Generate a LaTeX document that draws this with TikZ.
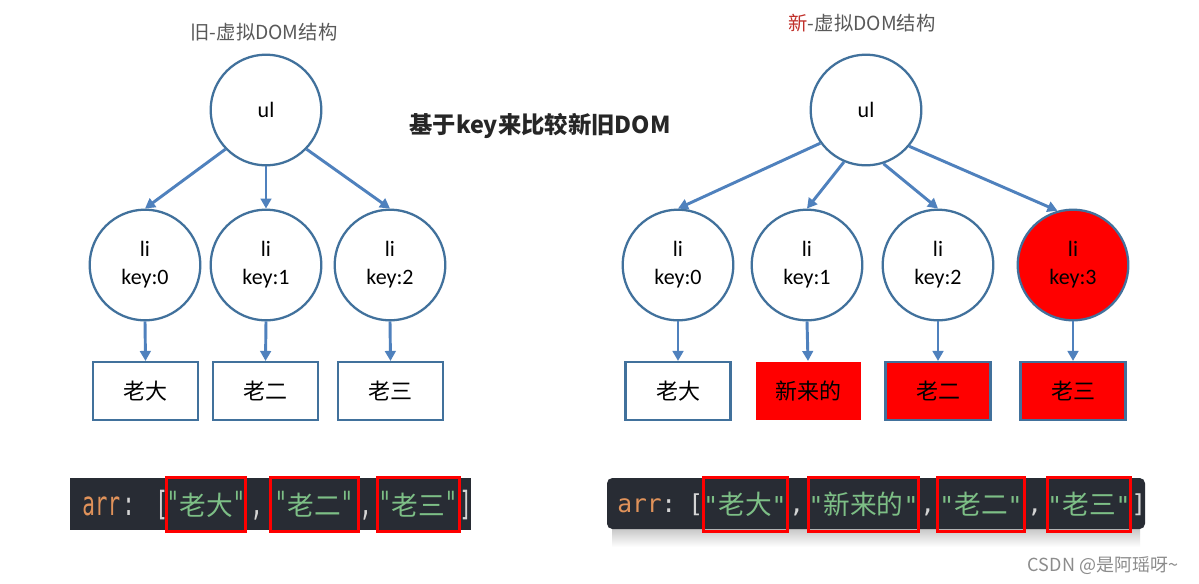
\documentclass[tikz,border=0pt]{standalone}
\usepackage{fontspec}
\usepackage{graphicx}
\setmainfont{Carlito}
\newfontfamily\cjk{Noto Sans CJK SC}
\newfontfamily\codefont{DejaVu Sans Mono}
\usetikzlibrary{arrows.meta}
\definecolor{outl}{HTML}{41719C}
\definecolor{arrowblue}{HTML}{4F81BD}
\definecolor{codebg}{HTML}{282C34}
\definecolor{codeor}{HTML}{E0925A}
\definecolor{codegr}{HTML}{7DBF86}
\definecolor{codefg}{HTML}{D4D4D4}
\definecolor{titlegrey}{HTML}{595959}
\definecolor{newred}{HTML}{C0302A}
\definecolor{markred}{HTML}{FF0000}
\tikzset{
  circ/.style={circle, draw=outl, line width=1.7pt, minimum size=83pt, inner sep=0pt,
    align=center, font=\fontsize{16.5}{21}\selectfont},
  leafbox/.style={rectangle, draw=outl, line width=1.6pt, minimum width=78.75pt,
    minimum height=43.5pt, inner sep=0pt, font=\cjk\fontsize{16.5}{20}\selectfont},
  conn/.style={draw=arrowblue, line width=2.2pt, -{Triangle[length=7.5pt,width=8pt]}},
  redbox/.style={draw=markred, line width=2.25pt, inner sep=0pt, minimum height=40.5pt,
    text=codegr, font=\codefont\fontsize{18.5}{20}\selectfont},
  codetxt/.style={inner sep=0pt, anchor=base west, font=\codefont\fontsize{18.5}{20}\selectfont},
  ttl/.style={font=\cjk\fontsize{14.5}{17}\selectfont, text=titlegrey, inner sep=0pt},
}
\newcommand{\cjs}[1]{{\cjk\fontsize{20}{22}\selectfont #1}}
\newcommand{\tallq}[1]{\scalebox{0.85}[1.35]{#1}}
\begin{document}
\begin{tikzpicture}[x=0.75pt, y=-0.75pt]
\useasboundingbox (0,0) rectangle (1199,583);
\fill[white] (0,0) rectangle (1199,583);

% ---------------- titles
\node[ttl] (tl) at (264,32) {旧-虚拟DOM结构};
\node[ttl] (tr) at (862,23) {\textcolor{newred}{新}-虚拟DOM结构};
\node[inner sep=0pt, text=black!85, font=\cjk\bfseries\fontsize{17.5}{20}\selectfont] (tc) at (540,126) {基于key来比较新旧DOM};

% ---------------- left tree
\node[circ] (Lul) at (266,110) {ul};
\node[circ] (L0) at (145,265) {li\\key:0};
\node[circ] (L1) at (266,265) {li\\key:1};
\node[circ] (L2) at (390,265) {li\\key:2};
\node[leafbox] (LB0) at (145.5,391) {老大};
\node[leafbox] (LB1) at (265.5,391) {老二};
\node[leafbox] (LB2) at (390.5,391) {老三};
\draw[conn] (Lul.-136) -- (L0.north);
\draw[conn] (Lul.south) -- (L1.north);
\draw[conn] (Lul.-44) -- (L2.north);
\draw[conn] (L0.south) -- (LB0.north);
\draw[conn] (L1.south) -- (LB1.north);
\draw[conn] (L2.south) -- (LB2.north);

% ---------------- right tree
\node[circ] (Rul) at (866,110) {ul};
\node[circ] (R0) at (678,265) {li\\key:0};
\node[circ] (R1) at (807,265) {li\\key:1};
\node[circ] (R2) at (938,265) {li\\key:2};
\node[circ, fill=markred] (R3) at (1073,265) {li\\key:3};
\node[leafbox] (RB0) at (678,391) {老大};
\node[leafbox, draw=none, fill=markred] (RB1) at (808,391) {新来的};
\node[leafbox, fill=markred] (RB2) at (938,391) {老二};
\node[leafbox, fill=markred] (RB3) at (1073,391) {老三};
\draw[conn] (Rul.-144) -- (R0.north);
\draw[conn] (Rul.-113) -- (R1.north);
\draw[conn] (Rul.-72) -- (R2.north);
\draw[conn] (Rul.-40) -- (R3.106);
\draw[conn] (R0.south) -- (RB0.north);
\draw[conn] (R1.south) -- (RB1.north);
\draw[conn] (R2.south) -- (RB2.north);
\draw[conn] (R3.south) -- (RB3.north);

% ---------------- left code bar
\fill[codebg] (70,478) rectangle (471,530);
\node[codetxt, text=codeor] (la) at (82,515) {\tallq{arr}};
\node[codetxt, text=codefg] (lb) at (122,515) {\tallq{:}};
\node[codetxt, text=codefg] (lb2) at (155,515) {\tallq{[}};
\node[redbox, minimum width=59pt] (ls0) at (206,504) {\tallq{"}\cjs{老大}\tallq{"}};
\node[codetxt, text=codefg] (lc0) at (250,515) {\tallq{,}};
\node[redbox, minimum width=66pt] (ls1) at (314,504) {\tallq{"}\cjs{老二}\tallq{"}};
\node[codetxt, text=codefg] (lc1) at (359,515) {\tallq{,}};
\node[redbox, minimum width=61.5pt] (ls2) at (418,504) {\tallq{"}\cjs{老三}\tallq{"}};
\node[codetxt, text=codefg] (le) at (459,515) {\tallq{]}};

% ---------------- right code bar
\shade[top color=black!25, bottom color=white] (612,526) rectangle (1140,547);
\fill[codebg, rounded corners=4pt] (607,478) rectangle (1145,529);
\node[codetxt, text=codeor] (ra) at (617,512) {arr};
\node[codetxt, text=codefg] (rb) at (661,512) {:};
\node[codetxt, text=codefg] (rb2) at (688,512) {[};
\node[redbox, minimum width=63pt] (rs0) at (745,504) {"\cjs{老大}"};
\node[codetxt, text=codefg] (rc0) at (789,512) {,};
\node[redbox, minimum width=83pt] (rs1) at (863.5,504) {"\cjs{新来的}"};
\node[codetxt, text=codefg] (rc1) at (920,512) {,};
\node[redbox, minimum width=65pt] (rs2) at (981,504) {"\cjs{老二}"};
\node[codetxt, text=codefg] (rc2) at (1027,512) {,};
\node[redbox, minimum width=62pt] (rs3) at (1089,504) {"\cjs{老三}"};
\node[codetxt, text=codefg] (re) at (1131,512) {]};

% ---------------- watermark
\node[inner sep=0pt, text=black!45, font=\cjk\fontsize{13.5}{15}\selectfont] (wm) at (1103,566) {CSDN @是阿瑶呀\textasciitilde};
\end{tikzpicture}
\end{document}
